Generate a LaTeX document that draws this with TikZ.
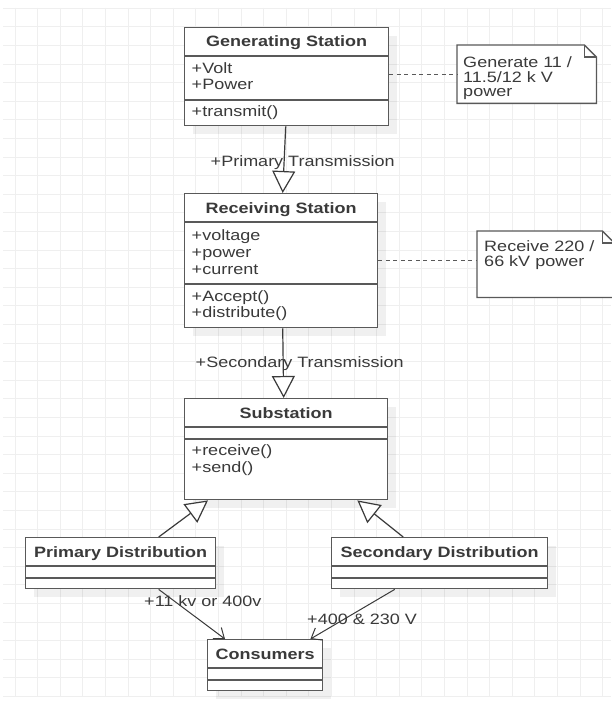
\documentclass[tikz,border=0pt]{standalone}
\usepackage{fontspec}
\setmainfont{Liberation Sans}
\usetikzlibrary{positioning,arrows.meta,shadows}

\definecolor{edge}{HTML}{595959}
\definecolor{ink}{HTML}{3A3A3A}
\definecolor{gridc}{HTML}{EFEFEF}

\begin{document}
\begin{tikzpicture}[
    x=1pt, y=-1pt,
    font=\fontsize{15pt}{17pt}\selectfont,
    cls/.style={draw=edge,line width=1.4pt,fill=white,anchor=north west,inner sep=0pt,
      drop shadow={shadow xshift=8pt,shadow yshift=-8pt,fill=black,opacity=0.06}},
    divider/.style={draw=edge,line width=1.2pt},
    head/.style={font=\fontsize{15pt}{17pt}\selectfont\bfseries,text=ink,xscale=1.2,inner sep=0pt,anchor=base},
    tag/.style={text=ink,xscale=1.2,inner sep=0pt,anchor=base west},
    note/.style={anchor=north west,inner sep=0pt},
    noteline/.style={draw=edge,line width=1.3pt},
    inherit/.style={draw=ink,line width=1.2pt,-{Triangle[fill=white,length=22pt,width=23pt]}},
    assoc/.style={draw=ink,line width=1pt,-{Straight Barb[length=9pt,width=14pt]}},
    anchorline/.style={draw=edge,line width=1.2pt,dash pattern=on 4pt off 3.5pt},
    gridline/.style={draw=gridc,line width=1pt},
  ]
  \path[use as bounding box,fill=white] (0,0) rectangle (611,706);
  % grid
  \foreach \i in {0,...,26} \draw[gridline] (15+22.6*\i,8) -- (15+22.6*\i,697);
  \foreach \j in {0,...,37} \draw[gridline] (3,8.3+18.6*\j) -- (611,8.3+18.6*\j);

  % classes
  \node[cls,minimum width=204pt,minimum height=98pt] (gen) at (184,27) {};
  \node[cls,minimum width=193pt,minimum height=134pt] (recv) at (184,193) {};
  \node[cls,minimum width=203pt,minimum height=101pt] (sub) at (184,398) {};
  \node[cls,minimum width=190pt,minimum height=51pt] (prim) at (25,537) {};
  \node[cls,minimum width=216pt,minimum height=51pt] (sec) at (331,537) {};
  \node[cls,minimum width=115pt,minimum height=51pt] (cons) at (207,639) {};

  \foreach \n/\a/\b in {gen/29pt/73pt,recv/29pt/91pt,sub/29pt/41pt,prim/29pt/41pt,sec/29pt/41pt,cons/29pt/41pt}{
    \draw[divider] ([yshift=-\a]\n.north west) -- ([yshift=-\a]\n.north east);
    \draw[divider] ([yshift=-\b]\n.north west) -- ([yshift=-\b]\n.north east);
  }
  \foreach \n/\t in {gen/Generating Station,recv/Receiving Station,sub/Substation,
      prim/Primary Distribution,sec/Secondary Distribution,cons/Consumers}
    \node[head] (\n-title) at ([yshift=-20pt]\n.north) {\t};
  \foreach \n/\d/\t [count=\k] in {gen/46.3pt/+Volt,gen/63pt/+Power,gen/89.7pt/+transmit(),
      recv/47pt/+voltage,recv/64.3pt/+power,recv/81.3pt/+current,recv/108.7pt/+Accept(),recv/124.7pt/+distribute(),
      sub/57.7pt/+receive(),sub/74.7pt/+send()}
    \node[tag] (field\k) at ([xshift=7.5pt,yshift=-\d]\n.north west) {\t};

  % notes
  \node[note,minimum width=139pt,minimum height=58pt] (gennote) at (457,45) {};
  \node[note,minimum width=137pt,minimum height=66pt] (recvnote) at (477,231) {};
  \foreach \n in {gennote,recvnote}{
    \draw[noteline,fill=white] (\n.south west) |- ([xshift=-12pt]\n.north east)
      -- ([yshift=-12pt]\n.north east) -- (\n.south east) -- cycle;
    \draw[noteline] ([xshift=-12pt]\n.north east) |- ([yshift=-12pt]\n.north east);
  }
  \node[tag] (gennote1) at (463,67.7) {Generate 11 /};
  \node[tag] (gennote2) at (463,82.3) {11.5/12 k V};
  \node[tag] (gennote3) at (463,96.8) {power};
  \node[tag] (recvnote1) at (484,251.7) {Receive 220 /};
  \node[tag] (recvnote2) at (484,266.7) {66 kV power};
  \draw[anchorline] (gen.east |- gennote.west) -- (gennote.west);
  \draw[anchorline] (recv.east) -- (recv.east -| recvnote.west);

  % links
  \draw[inherit] ([xshift=-1pt]gen.south) -- ([xshift=1.5pt]recv.north);
  \draw[inherit] ([xshift=1.5pt]recv.south) -- ([xshift=-2.5pt]sub.north);
  \draw[inherit] ([xshift=38pt]prim.north) -- ([xshift=24pt]sub.south west);
  \draw[inherit] ([xshift=-36.5pt]sec.north) -- ([xshift=-31pt]sub.south east);
  \draw[assoc] ([xshift=38pt]prim.south) -- ([xshift=18pt]cons.north west);
  \draw[assoc] ([xshift=-45pt]sec.south) -- ([xshift=-13pt]cons.north east);

  \node[tag] (primlink) at (210.5,166) {+Primary Transmission};
  \node[tag] (seclink) at (195.5,367.3) {+Secondary Transmission};
  \node[tag] (lowlink) at (144,606.7) {+11 kv or 400v};
  \node[tag] (homelink) at (307,624) {+400 \& 230 V};
\end{tikzpicture}
\end{document}
